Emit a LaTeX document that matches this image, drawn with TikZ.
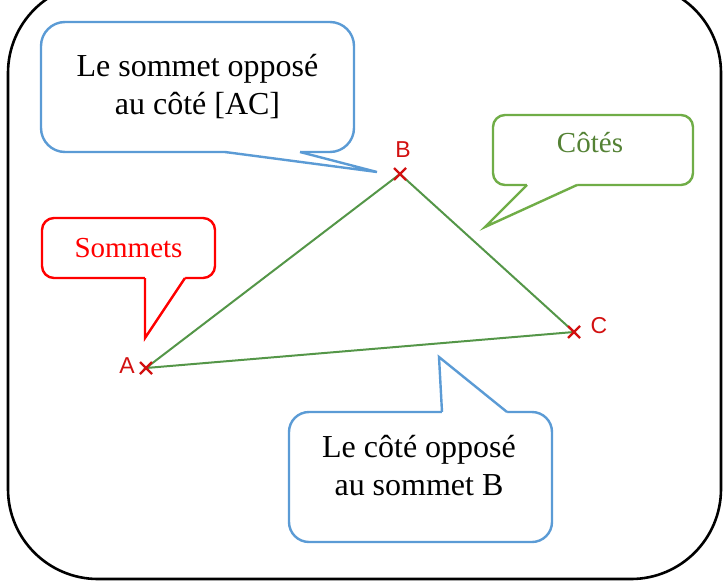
\documentclass[tikz,border=0pt]{standalone}
\usepackage{fontspec}
\setmainfont{Liberation Serif}
\newfontfamily\lettrefont{Liberation Sans}
\usetikzlibrary{positioning}
\definecolor{bleu}{RGB}{91,155,213}
\definecolor{vert}{RGB}{112,173,71}
\definecolor{vertfonce}{RGB}{84,130,53}
\definecolor{trait}{RGB}{84,150,72}
\definecolor{rouge}{RGB}{255,0,0}
\definecolor{point}{RGB}{210,16,16}

\begin{document}
\begin{tikzpicture}[x=0.5pt,y=-0.5pt]
	\tikzstyle{bulle} = [draw, line width=1.2pt, fill=white, inner sep=0pt, align=center]
	\tikzstyle{grand} = [font=\fontsize{16}{19}\selectfont]
	\tikzstyle{petit} = [font=\fontsize{14.5}{17}\selectfont]
	\tikzstyle{lettre} = [text=point, font=\lettrefont\fontsize{11.5}{13}\selectfont]
	\tikzstyle{croix} = [draw=point, line width=1.2pt]
\useasboundingbox (0,0) rectangle (723,584);
\clip (0,0) rectangle (723,584);

% cadre
\draw[line width=1.3pt, rounded corners=45pt] (8,-17) rectangle (721,579);

% triangle
\coordinate (A) at (146,368);
\coordinate (B) at (400,174);
\coordinate (C) at (574,332);
	\path[draw, trait, line width=1pt] (A) -- (B) -- (C) -- cycle;
	\path[croix] (A) +(-6,-6) -- +(6,6) (A) +(-6,6) -- +(6,-6);
	\path[croix] (B) +(-6,-6) -- +(6,6) (B) +(-6,6) -- +(6,-6);
	\path[croix] (C) +(-6,-6) -- +(6,6) (C) +(-6,6) -- +(6,-6);
\node[lettre] (lA) at (127,366) {A};
\node[lettre] (lB) at (403,150) {B};
\node[lettre] (lC) at (599,326) {C};

% bulle : sommet oppose
\node[bulle, grand, draw=bleu, rounded corners=12pt, minimum width=156.5pt, minimum height=65pt] (sommet) at (197.5,87) {Le sommet opposé\\au côté [AC]};
\coordinate (tsommet) at (377,172);
	\path[fill=white] (225,148) -- (225,152) -- (tsommet) -- (300,152) -- (300,148) -- cycle;
	\path[draw, bleu, line width=1.2pt] (225,152) -- (tsommet) -- (300,152);

% bulle : cotes
\node[bulle, petit, draw=vert, rounded corners=6pt, minimum width=100pt, minimum height=35pt] (cotes) at (593,150) {};
\node[petit, text=vertfonce] (tcotes) at (590,143) {Côtés};
\coordinate (pcotes) at (485,227);
	\path[fill=white] (527,181) -- (527,185) -- (pcotes) -- (577,185) -- (577,181) -- cycle;
	\path[draw, vert, line width=1.2pt] (527,185) -- (pcotes) -- (577,185);

% bulle : sommets
\node[bulle, petit, draw=rouge, text=rouge, rounded corners=6pt, minimum width=86.5pt, minimum height=30pt] (sommets) at (128.5,248) {Sommets};
\coordinate (psommets) at (145,338);
	\path[fill=white] (145,274) -- (145,278) -- (psommets) -- (185,278) -- (185,274) -- cycle;
	\path[draw, rouge, line width=1.2pt] (145,278) -- (psommets) -- (185,278);

% bulle : cote oppose
\node[bulle, draw=bleu, rounded corners=10pt, minimum width=131.5pt, minimum height=65pt] (cote) at (420.5,477) {};
\node[grand, align=center] (tcote) at (419,466) {Le côté opposé\\au sommet B};
\coordinate (pcote) at (439,357);
	\path[fill=white] (442,416) -- (442,412) -- (pcote) -- (507,412) -- (507,416) -- cycle;
	\path[draw, bleu, line width=1.2pt] (442,412) -- (pcote) -- (507,412);
\end{tikzpicture}
\end{document}
